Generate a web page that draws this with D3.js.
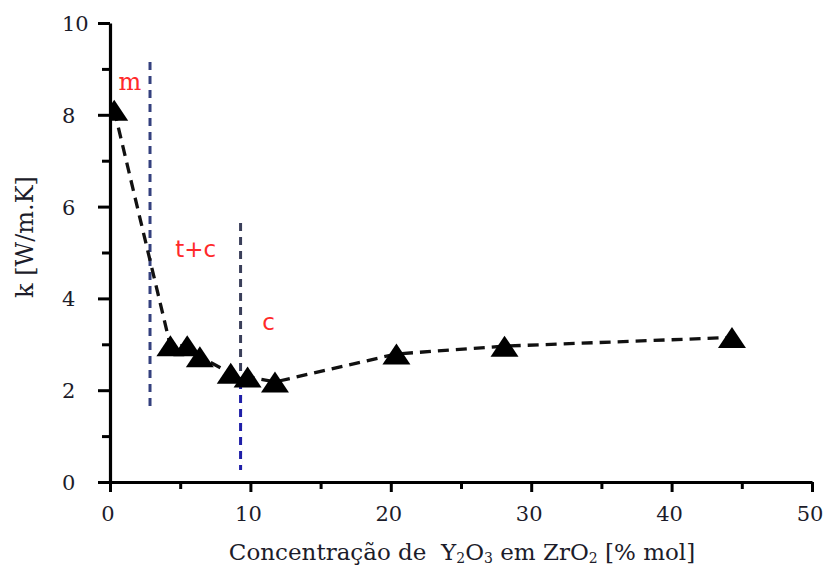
<!DOCTYPE html>
<html><head><meta charset="utf-8">
<script src="https://cdn.jsdelivr.net/npm/d3@7"></script>
<style>
html,body{margin:0;padding:0;background:#fff;}
svg{display:block;}
</style></head>
<body>
<svg id="chart" width="826" height="568"></svg>
<script>
// ---- data ----
const concentration = [0.3, 4.3, 5.5, 6.4, 8.6, 9.8, 11.75, 20.4, 28.1, 44.3];
const conductivity  = [8.1, 2.97, 2.97, 2.73, 2.37, 2.29, 2.18, 2.79, 2.96, 3.15];
const xMajorTicks = [0, 10, 20, 30, 40, 50];
const xMinorTicks = [5, 15, 25, 35, 45];
const yMajorTicks = [0, 2, 4, 6, 8, 10];
const yMinorTicks = [1, 3, 5, 7, 9];
const boundaryX    = [2.85, 9.3];
const boundaryYTop = [9.15, 5.64];
const boundaryYBot = [1.6, 0.26];
const phaseLabels  = ["m", "t+c", "c"];
const phaseLabelX  = [1.42, 6.1, 11.3];
const phaseLabelY  = [8.54, 4.9, 3.31];

// ---- layout ----
const svg = d3.select("#chart");
const x = d3.scaleLinear().domain([0, 50]).range([110, 812]);
const y = d3.scaleLinear().domain([0, 10]).range([482, 23]);
const serif = "'DejaVu Serif', 'Liberation Serif', serif";
const sans = "'DejaVu Sans', 'Liberation Sans', sans-serif";
const textColor = "#1c1c2a";

svg.append("defs").append("clipPath").attr("id", "plotClip")
  .append("rect").attr("x", x(0)).attr("y", 0).attr("width", x(50) - x(0) + 20).attr("height", y(0));

// phase boundaries
const bColors = ["#34407e", "#3a3f5a"];
boundaryX.forEach((bx, i) => {
  svg.append("line")
    .attr("x1", x(bx)).attr("x2", x(bx))
    .attr("y1", y(boundaryYTop[i])).attr("y2", y(boundaryYBot[i]))
    .attr("stroke", bColors[i]).attr("stroke-width", 3)
    .attr("stroke-dasharray", "8,6");
});
// lower portion of second boundary is brighter blue
svg.append("line")
  .attr("x1", x(boundaryX[1])).attr("x2", x(boundaryX[1]))
  .attr("y1", y(2.2)).attr("y2", y(boundaryYBot[1]))
  .attr("stroke", "#fff").attr("stroke-width", 4);
svg.append("line")
  .attr("x1", x(boundaryX[1])).attr("x2", x(boundaryX[1]))
  .attr("y1", y(2.2)).attr("y2", y(boundaryYBot[1]))
  .attr("stroke", "#1f1fa8").attr("stroke-width", 3)
  .attr("stroke-dasharray", "8,6");

// data dashed line
const pts = concentration.map((c, i) => [c, conductivity[i]]);
svg.append("path")
  .datum(pts)
  .attr("fill", "none")
  .attr("stroke", "#111")
  .attr("stroke-width", 3.3)
  .attr("stroke-dasharray", "11,7")
  .attr("d", d3.line().x(d => x(d[0])).y(d => y(d[1])));

// markers (triangles)
const triW = 28, triH = 21;
const triPath = `M0,${-triH/2}L${triW/2},${triH/2}L${-triW/2},${triH/2}Z`;
svg.append("g").attr("clip-path", "url(#plotClip)")
  .selectAll("path.tri").data(pts).join("path")
  .attr("class", "tri")
  .attr("transform", d => `translate(${x(d[0])},${y(d[1])})`)
  .attr("d", triPath)
  .attr("fill", "#000");

// axes
const axisStyle = g => {
  g.select(".domain").attr("stroke", "#000").attr("stroke-width", 3.2);
  g.selectAll(".tick line").attr("stroke", "#000").attr("stroke-width", 3);
  g.selectAll(".tick text").remove();
};
svg.append("g").attr("transform", `translate(0,${y(0)})`)
  .call(d3.axisBottom(x).tickValues(xMajorTicks).tickSize(10).tickSizeOuter(0).tickFormat(""))
  .call(axisStyle);
svg.append("g").attr("transform", `translate(0,${y(0)})`)
  .call(d3.axisBottom(x).tickValues(xMinorTicks).tickSize(7).tickSizeOuter(0).tickFormat(""))
  .call(axisStyle).select(".domain").remove();
svg.append("g").attr("transform", `translate(${x(0)},0)`)
  .call(d3.axisLeft(y).tickValues(yMajorTicks).tickSize(12).tickSizeOuter(0).tickFormat(""))
  .call(axisStyle);
svg.append("g").attr("transform", `translate(${x(0)},0)`)
  .call(d3.axisLeft(y).tickValues(yMinorTicks).tickSize(8).tickSizeOuter(0).tickFormat(""))
  .call(axisStyle).select(".domain").remove();

// tick labels
svg.append("g").selectAll("text").data(xMajorTicks).join("text")
  .attr("x", d => x(d) - 2).attr("y", 521)
  .attr("text-anchor", "middle")
  .attr("font-family", serif).attr("font-size", 21).attr("fill", textColor)
  .text(d => d);
svg.append("g").selectAll("text").data(yMajorTicks).join("text")
  .attr("x", 62).attr("y", d => y(d) + 8)
  .attr("text-anchor", "start")
  .attr("font-family", serif).attr("font-size", 21).attr("fill", textColor)
  .text(d => d);

// phase labels
phaseLabels.forEach((t, i) => {
  svg.append("text")
    .attr("x", x(phaseLabelX[i])).attr("y", y(phaseLabelY[i]))
    .attr("text-anchor", "middle")
    .attr("font-family", i === 0 ? serif : sans)
    .attr("font-size", i === 0 ? 24 : 23)
    .attr("fill", "#ff2a2a")
    .text(t);
});

// axis titles
svg.append("text")
  .attr("transform", "translate(33,237) rotate(-90)")
  .attr("text-anchor", "middle")
  .attr("font-family", serif).attr("font-size", 24).attr("fill", textColor)
  .text("k [W/m.K]");

const xt = svg.append("text")
  .attr("x", 462).attr("y", 560)
  .attr("text-anchor", "middle")
  .attr("font-family", serif).attr("font-size", 23).attr("fill", textColor);
xt.append("tspan").text("Concentração de\u00a0\u00a0Y");
xt.append("tspan").attr("font-size", 14).attr("dy", 3).text("2");
xt.append("tspan").attr("dy", -3).text("O");
xt.append("tspan").attr("font-size", 14).attr("dy", 3).text("3");
xt.append("tspan").attr("dy", -3).text("\u00a0em ZrO");
xt.append("tspan").attr("font-size", 14).attr("dy", 3).text("2");
xt.append("tspan").attr("dy", -3).text(" [% mol]");
</script>
</body></html>
